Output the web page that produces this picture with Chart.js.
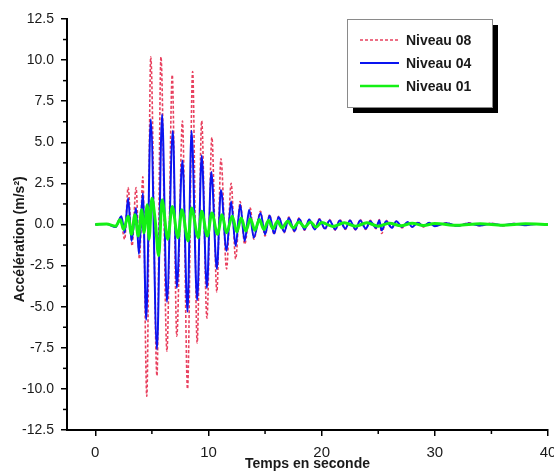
<!DOCTYPE html>
<html>
<head>
<meta charset="utf-8">
<script src="https://cdn.jsdelivr.net/npm/chart.js@4"></script>
<style>
  html, body { margin: 0; padding: 0; background: #fff; }
  #wrap { width: 554px; height: 476px; }
</style>
</head>
<body>
<div id="wrap"><canvas id="chart" width="554" height="476"></canvas></div>
<script>
// time (s) / acceleration (m/s²)
const niveau08 = [
  [0, 0], [1.0, 0.05], [1.8, -0.15], [2.2, 0.4], [2.6, -0.9], [2.9, 2.25], [3.25, -1.3], [3.6, 2.25],
  [3.9, -2.1], [4.2, 2.9], [4.55, -10.45], [4.9, 10.2], [5.45, -9.2], [5.8, 10.2], [6.33, -7.7], [6.8, 9.1],
  [7.2, -6.8], [7.7, 6.3], [8.15, -10.0], [8.6, 9.3], [9.0, -7.2], [9.4, 6.3], [9.86, -5.7], [10.3, 5.3],
  [10.74, -4.1], [11.1, 4.0], [11.6, -2.7], [12.0, 2.5], [12.4, -2.1], [12.8, 1.4], [13.2, -1.2], [13.7, 1.0],
  [14.0, -0.9], [14.6, 0.8], [15.0, -0.7], [15.4, 0.6], [15.8, -0.6], [16.2, 0.5], [16.7, -0.5], [17.1, 0.45],
  [17.6, -0.45], [18.0, 0.4], [18.5, -0.35], [18.9, 0.3], [19.4, -0.3], [19.8, 0.35], [20.3, -0.3], [20.7, 0.3],
  [21.2, -0.35], [21.6, 0.3], [22.1, -0.3], [22.5, 0.25], [23.0, -0.35], [23.4, 0.3], [23.9, -0.3], [24.3, 0.25],
  [24.8, -0.25], [25.1, 0.3], [25.3, -0.55], [25.7, 0.25], [26.2, -0.2], [26.6, 0.2], [27.1, -0.2], [27.6, 0.15],
  [28.0, -0.15], [28.5, 0.15], [29.0, -0.15], [29.5, 0.1], [30.0, -0.1], [31, 0.1], [32, -0.1], [33, 0.1],
  [34, -0.08], [35, 0.08], [36, -0.08], [37, 0.06], [38, -0.06], [39, 0.05], [40, 0]
];
const niveau04 = [
  [0, 0], [1.0, 0.03], [1.8, -0.15], [2.3, 0.5], [2.6, -0.5], [2.9, 1.6], [3.2, -1.0], [3.6, 1.0],
  [3.85, -1.8], [4.2, 1.9], [4.5, -5.8], [4.9, 6.4], [5.45, -7.6], [5.9, 6.7], [6.33, -4.7], [6.85, 5.7],
  [7.2, -3.85], [7.7, 3.9], [8.15, -5.3], [8.5, 5.7], [9.0, -4.6], [9.4, 4.2], [9.86, -3.85], [10.25, 3.2],
  [10.74, -2.7], [11.1, 2.1], [11.6, -1.6], [12.0, 1.4], [12.4, -1.3], [12.8, 1.2], [13.2, -1.0], [13.6, 0.9],
  [14.0, -0.8], [14.6, 0.7], [15.0, -0.6], [15.4, 0.55], [15.8, -0.55], [16.2, 0.45], [16.7, -0.45], [17.1, 0.4],
  [17.6, -0.4], [18.0, 0.35], [18.5, -0.3], [18.9, 0.3], [19.4, -0.3], [19.8, 0.3], [20.3, -0.25], [20.7, 0.25],
  [21.2, -0.3], [21.6, 0.25], [22.1, -0.25], [22.5, 0.25], [23.0, -0.3], [23.4, 0.25], [23.9, -0.25], [24.3, 0.2],
  [24.8, -0.2], [25.1, 0.25], [25.3, -0.35], [25.7, 0.2], [26.2, -0.2], [26.6, 0.2], [27.1, -0.15], [27.6, 0.15],
  [28.0, -0.15], [28.5, 0.1], [29.0, -0.1], [29.5, 0.1], [30, -0.1], [31, 0.08], [32, -0.08], [33, 0.06],
  [34, -0.06], [35, 0.05], [36, -0.05], [37, 0.04], [38, -0.04], [39, 0.03], [40, 0]
];
const niveau01 = [
  [0, 0], [1.0, 0.03], [1.8, -0.1], [2.2, 0.3], [2.5, -0.3], [2.9, 0.5], [3.2, -0.6], [3.5, 0.6],
  [3.8, -0.7], [4.1, 0.9], [4.3, -0.5], [4.6, 1.2], [4.75, -0.9], [5.0, 1.6], [5.3, 0.2], [5.6, -1.9],
  [5.9, 1.5], [6.4, -0.9], [6.8, 1.1], [7.3, -0.8], [7.65, 0.9], [8.2, -1.0], [8.5, 1.0], [9.1, -0.8],
  [9.4, 0.8], [9.9, -0.7], [10.3, 0.7], [10.8, -0.6], [11.2, 0.6], [11.6, -0.5], [12.1, 0.5], [12.5, -0.45],
  [12.9, 0.4], [13.3, -0.4], [13.7, 0.35], [14.1, -0.35], [14.5, 0.3], [14.9, -0.3], [15.3, 0.25], [15.7, -0.25],
  [16.1, 0.2], [16.5, -0.2], [17.0, 0.2], [17.5, -0.2], [18.0, 0.15], [18.5, -0.15], [19, 0.15], [19.5, -0.15],
  [20, 0.12], [21, -0.12], [22, 0.1], [23, -0.1], [24, 0.1], [25, -0.1], [26, 0.08], [27, -0.08],
  [28, 0.08], [29, -0.06], [30, 0.06], [32, -0.05], [34, 0.05], [36, -0.04], [38, 0.04], [40, 0]
];

const seriesLabels = ["Niveau 08", "Niveau 04", "Niveau 01"];
const xTicks = [0, 10, 20, 30, 40];
const yTicks = [-12.5, -10, -7.5, -5, -2.5, 0, 2.5, 5, 7.5, 10, 12.5];
const yTitle = "Accélération (m/s²)";

const textColor = "#1a1a1a";
const fontFamily = "'Liberation Sans', Arial, sans-serif";

function toPoints(pairs) {
    return pairs.map((p) => ({ x: p[0], y: p[1] }));
}

// minor ticks, y title (sits a bit below the axis middle) and the shadowed legend box
const extrasPlugin = {
    id: "extras",
    afterDraw(chart) {
        const ctx = chart.ctx;
        const xs = chart.scales.x;
        const ys = chart.scales.y;
        const area = chart.chartArea;

        ctx.save();
        ctx.strokeStyle = "#000";
        ctx.lineWidth = 1.5;
        for (let i = 0; i < xTicks.length - 1; i++) {
            const px = xs.getPixelForValue((xTicks[i] + xTicks[i + 1]) / 2);
            ctx.beginPath();
            ctx.moveTo(px, area.bottom);
            ctx.lineTo(px, area.bottom + 4);
            ctx.stroke();
        }
        for (let i = 0; i < yTicks.length - 1; i++) {
            const py = ys.getPixelForValue((yTicks[i] + yTicks[i + 1]) / 2);
            ctx.beginPath();
            ctx.moveTo(area.left, py);
            ctx.lineTo(area.left - 4, py);
            ctx.stroke();
        }

        ctx.save();
        ctx.translate(20, ys.getPixelForValue(-0.9));
        ctx.rotate(-Math.PI / 2);
        ctx.font = "bold 14px " + fontFamily;
        ctx.fillStyle = textColor;
        ctx.textAlign = "center";
        ctx.textBaseline = "middle";
        ctx.fillText(yTitle, 0, 0);
        ctx.restore();

        // legend
        const bx = 347, by = 19, bw = 145, bh = 88;
        ctx.fillStyle = "#000";
        ctx.fillRect(bx + 6, by + 6, bw, bh);
        ctx.fillStyle = "#fff";
        ctx.fillRect(bx, by, bw, bh);
        ctx.strokeStyle = "#8a8a8a";
        ctx.lineWidth = 1;
        ctx.strokeRect(bx + 0.5, by + 0.5, bw, bh);

        ctx.font = "bold 14px " + fontFamily;
        ctx.textBaseline = "middle";
        chart.data.datasets.forEach((ds, i) => {
            const ly = by + 21 + i * 23;
            ctx.beginPath();
            ctx.strokeStyle = ds.borderColor;
            ctx.lineWidth = Math.min(ds.borderWidth, 2.5);
            ctx.setLineDash(ds.borderDash || []);
            ctx.moveTo(360, ly);
            ctx.lineTo(399, ly);
            ctx.stroke();
            ctx.setLineDash([]);
            ctx.fillStyle = textColor;
            ctx.fillText(ds.label, 406, ly + 1);
        });
        ctx.restore();
    }
};

new Chart(document.getElementById("chart"), {
    type: "line",
    data: {
        datasets: [
            {
                label: seriesLabels[0],
                data: toPoints(niveau08),
                borderColor: "#e8405e",
                borderWidth: 1.6,
                borderDash: [3, 2],
                order: 3
            },
            {
                label: seriesLabels[1],
                data: toPoints(niveau04),
                borderColor: "#0a14f0",
                borderWidth: 2,
                order: 2
            },
            {
                label: seriesLabels[2],
                data: toPoints(niveau01),
                borderColor: "#14f014",
                borderWidth: 3,
                order: 1
            }
        ]
    },
    options: {
        responsive: false,
        animation: false,
        events: [],
        parsing: false,
        elements: {
            point: { radius: 0 },
            line: { cubicInterpolationMode: "monotone" }
        },
        layout: { padding: { top: 19, right: 6, left: 0, bottom: 0 } },
        plugins: {
            legend: { display: false },
            tooltip: { enabled: false }
        },
        scales: {
            x: {
                type: "linear",
                min: -2.5,
                max: 40,
                afterBuildTicks(scale) {
                    scale.ticks = xTicks.map((v) => ({ value: v }));
                },
                afterFit(scale) {
                    scale.height = 46;
                    scale.paddingLeft = 0;
                    scale.paddingRight = 0;
                },
                grid: {
                    drawOnChartArea: false,
                    drawTicks: true,
                    tickLength: 6,
                    color: "#000",
                    lineWidth: 1.5
                },
                border: { display: true, color: "#000", width: 2 },
                ticks: {
                    color: textColor,
                    font: { family: fontFamily, size: 15 },
                    padding: 8,
                    maxRotation: 0,
                    autoSkip: false
                },
                title: {
                    display: true,
                    text: "Temps en seconde",
                    color: textColor,
                    font: { family: fontFamily, size: 14, weight: "bold" },
                    padding: { top: 0, bottom: 3 }
                }
            },
            y: {
                type: "linear",
                min: -12.5,
                max: 12.5,
                afterBuildTicks(scale) {
                    scale.ticks = yTicks.map((v) => ({ value: v }));
                },
                afterFit(scale) {
                    scale.width = 67;
                    scale.paddingTop = 0;
                    scale.paddingBottom = 0;
                },
                grid: {
                    drawOnChartArea: false,
                    drawTicks: true,
                    tickLength: 6,
                    color: "#000",
                    lineWidth: 1.5
                },
                border: { display: true, color: "#000", width: 2 },
                ticks: {
                    color: textColor,
                    font: { family: fontFamily, size: 14 },
                    padding: 7,
                    autoSkip: false,
                    callback: (v) => v.toFixed(1)
                },
                title: { display: false }
            }
        }
    },
    plugins: [extrasPlugin]
});
</script>
</body>
</html>
